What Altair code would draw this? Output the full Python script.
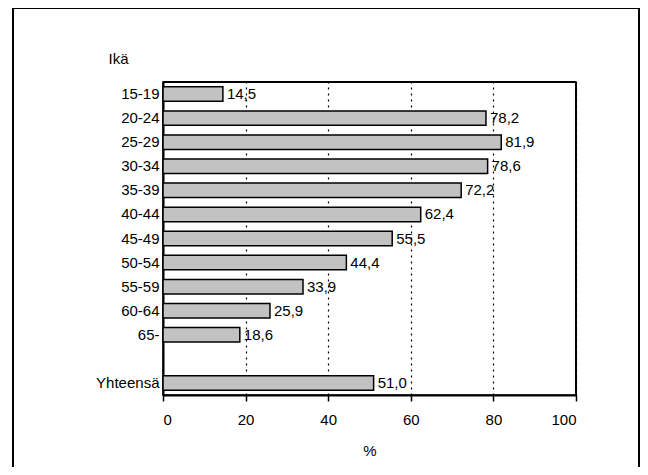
import altair as alt
import pandas as pd

ages = ["15-19", "20-24", "25-29", "30-34", "35-39", "40-44", "45-49",
        "50-54", "55-59", "60-64", "65-", " ", "Yhteensä"]
data_ages = ["15-19", "20-24", "25-29", "30-34", "35-39", "40-44", "45-49",
             "50-54", "55-59", "60-64", "65-", "Yhteensä"]
values = [14.5, 78.2, 81.9, 78.6, 72.2, 62.4, 55.5, 44.4, 33.9, 25.9, 18.6, 51.0]
x_ticks = [0, 20, 40, 60, 80, 100]

df = pd.DataFrame({"age": data_ages, "value": values})
df["label"] = [f"{v:.1f}".replace(".", ",") for v in values]

FONT = "Liberation Sans"
FS = 15
W, H = 413, 313

y_enc = alt.Y("age:N", sort=ages,
              scale=alt.Scale(domain=ages, paddingInner=0.4, paddingOuter=0.2),
              axis=alt.Axis(title="Ikä", titleAngle=0, titleAlign="left",
                            titleBaseline="alphabetic", titleX=-55, titleY=-19,
                            titleFontSize=FS, titleFontWeight="normal",
                            titleFont=FONT, titleColor="black",
                            labelFontSize=FS, labelFont=FONT, labelColor="black",
                            labelPadding=4, ticks=False, domain=True,
                            domainColor="black", domainWidth=2))
x_enc = alt.X("value:Q", scale=alt.Scale(domain=[0, 100], nice=False),
              axis=alt.Axis(title="%", values=x_ticks, tickSize=6, tickWidth=1.5,
                            tickColor="black", labelFontSize=FS, labelFont=FONT,
                            labelColor="black", labelPadding=11,
                            titleFontSize=FS, titleFont=FONT,
                            titleFontWeight="normal", titleColor="black",
                            titlePadding=16, domain=True, domainColor="black",
                            domainWidth=2, grid=True,
                            gridDash=[2, 4], gridColor="black", gridWidth=1.2,
                            gridOpacity=1))

bars = alt.Chart(df).mark_bar(color="#c2c2c2", stroke="black",
                              strokeWidth=1.5).encode(x=x_enc, y=y_enc)
text = alt.Chart(df).mark_text(align="left", baseline="middle", dx=4,
                               fontSize=FS, font=FONT, color="black").encode(
    x="value:Q", y=alt.Y("age:N", sort=ages), text="label:N")

one = pd.DataFrame({"a": [0]})
frame = alt.Chart(one).mark_rect(
    fill=None, stroke="black", strokeWidth=2).encode(
    x=alt.value(-150), x2=alt.value(476), y=alt.value(-74), y2=alt.value(420))
top_rule = alt.Chart(one).mark_rule(color="black", strokeWidth=2).encode(
    x=alt.value(0), x2=alt.value(W), y=alt.value(0))
right_rule = alt.Chart(one).mark_rule(color="black", strokeWidth=2).encode(
    x=alt.value(W), y=alt.value(0), y2=alt.value(H))

chart = alt.layer(frame, bars, text, top_rule, right_rule).properties(
    width=W, height=H,
    autosize=alt.AutoSizeParams(type="none"),
    padding={"left": 155, "top": 74, "right": 64, "bottom": 72},
    background="white",
).configure_view(stroke="black", strokeWidth=1.5)

chart.save("out.html", embed_options={"renderer": "svg", "actions": False})
